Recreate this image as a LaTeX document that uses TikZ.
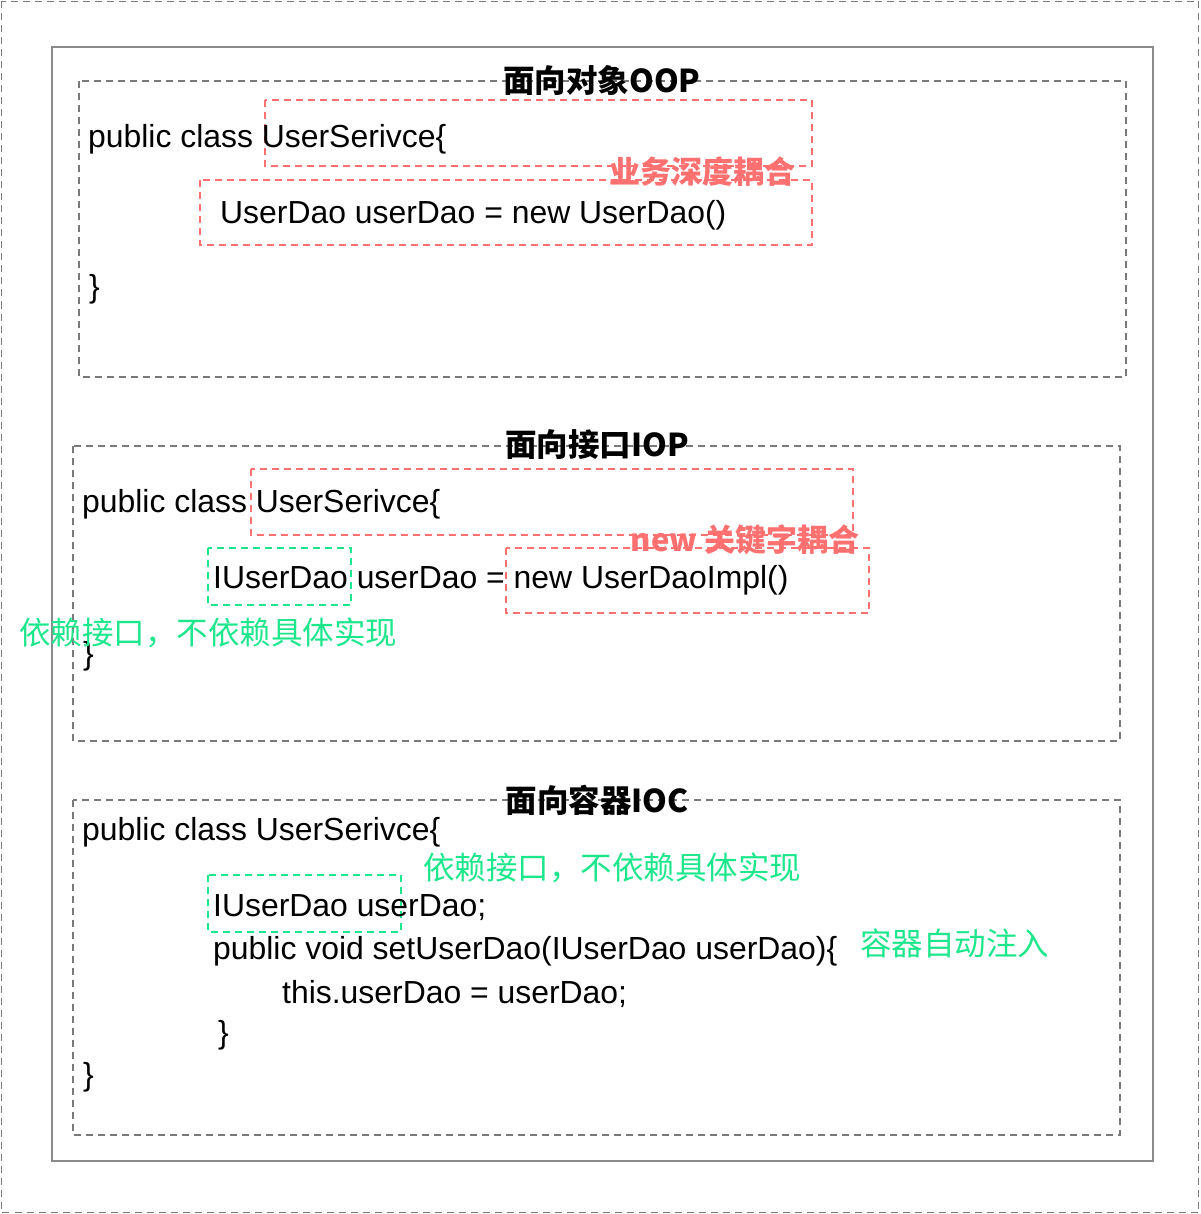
\documentclass[tikz,border=0pt]{standalone}
\usepackage{fontspec}
\setmainfont{Liberation Sans}
\newfontfamily\cjk{Noto Sans CJK SC}
\definecolor{dgray}{HTML}{7A7A7A}
\definecolor{sgray}{HTML}{8A8A8A}
\definecolor{lred}{HTML}{FF7070}
\definecolor{lgreen}{HTML}{1EE68C}
\begin{document}
\begin{tikzpicture}[x=1pt,y=-1pt,
  graydash/.style={draw=dgray, line width=1.8pt, dash pattern=on 7pt off 5pt},
  reddash/.style={draw=lred, line width=1.8pt, dash pattern=on 7pt off 5pt},
  greendash/.style={draw=lgreen, line width=1.8pt, dash pattern=on 7pt off 5pt},
  code/.style={anchor=base west, inner sep=0pt, font=\fontsize{31.9}{38}\selectfont},
  title/.style={inner sep=0pt, font=\cjk\bfseries\fontsize{31.5}{38}\selectfont},
  redlab/.style={inner sep=0pt, text=lred, font=\cjk\bfseries\fontsize{31}{38}\selectfont},
  greenlab/.style={inner sep=0pt, text=lgreen, font=\cjk\fontsize{31.5}{38}\selectfont}]
\useasboundingbox (0,0) rectangle (1200,1214);
% frames
\draw[graydash] (1.5,1.5) rectangle (1198.5,1212.5);
\draw[draw=sgray, line width=1.8pt] (52,47) rectangle (1153,1161);
\draw[graydash] (79,81) rectangle (1126,377);
\draw[graydash] (73,446) rectangle (1120,741);
\draw[graydash] (73,800) rectangle (1120,1135);
% highlight boxes
\draw[reddash] (265,100) rectangle (812,166);
\draw[reddash] (200,180) rectangle (812,245);
\draw[reddash] (251,469) rectangle (853,535);
\draw[reddash] (506,548) rectangle (869,613);
\draw[greendash] (208,548) rectangle (351,605);
\draw[greendash] (208,875) rectangle (401,932);
% titles
\node[title] (t1) at (602,80) {面向对象OOP};
\node[title] (t2) at (597,445) {面向接口IOP};
\node[title] (t3) at (597,800) {面向容器IOC};
% section 1
\node[code] (s1a) at (88,148) {public class UserSerivce\{};
\node[code] (s1b) at (220,224) {UserDao userDao = new UserDao()};
\node[code] (s1c) at (89,298) {\}};
\node[redlab] (r1) at (702,172) {业务深度耦合};
% section 2
\node[code] (s2a) at (82,512) {public class UserSerivce\{};
\node[code] (s2b) at (213,588) {IUserDao userDao = new UserDaoImpl()};
\node[code] (s2c) at (83,664) {\}};
\node[redlab] (r2) at (745,540) {new 关键字耦合};
\node[greenlab] (g1) at (208,633) {依赖接口，不依赖具体实现};
% section 3
\node[code] (s3a) at (82,840) {public class UserSerivce\{};
\node[code] (s3b) at (213,916) {IUserDao userDao;};
\node[code] (s3c) at (213,959) {public void setUserDao(IUserDao userDao)\{};
\node[code] (s3d) at (282,1003) {this.userDao = userDao;};
\node[code] (s3e) at (218,1043) {\}};
\node[code] (s3f) at (83,1085) {\}};
\node[greenlab] (g2) at (612,868) {依赖接口，不依赖具体实现};
\node[greenlab] (g3) at (954.5,943) {容器自动注入};
\end{tikzpicture}
\end{document}
